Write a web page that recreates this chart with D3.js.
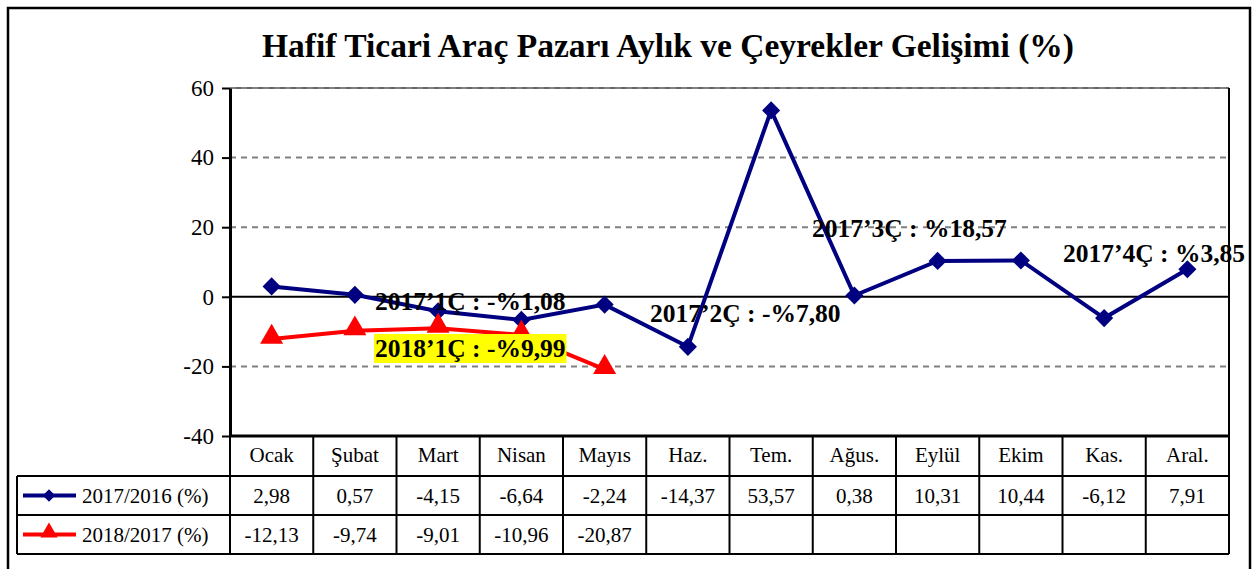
<!DOCTYPE html>
<html>
<head>
<meta charset="utf-8">
<script src="https://cdn.jsdelivr.net/npm/d3@7"></script>
<style>
body { margin: 0; background: #fff; }
svg { display: block; font-family: "Liberation Serif", serif; }
</style>
</head>
<body>
<div id="area"></div>
<script>
var months = ["Ocak", "Şubat", "Mart", "Nisan", "Mayıs", "Haz.", "Tem.", "Ağus.", "Eylül", "Ekim", "Kas.", "Aral."];
var vals2017 = [2.98, 0.57, -4.15, -6.64, -2.24, -14.37, 53.57, 0.38, 10.31, 10.44, -6.12, 7.91];
var vals2018 = [-12.13, -9.74, -9.01, -10.96, -20.87];
var seriesNames = ["2017/2016 (%)", "2018/2017 (%)"];
var yTicks = [-40, -20, 0, 20, 40, 60];
var notes = ["2017’1Ç : -%1,08", "2018’1Ç : -%9,99", "2017’2Ç : -%7,80", "2017’3Ç : %18,57", "2017’4Ç : %3,85"];
var title = "Hafif Ticari Araç Pazarı Aylık ve Çeyrekler Gelişimi (%)";

var width = 1254;
var height = 569;

var svg = d3.select("#area").append("svg")
    .attr("width", width)
    .attr("height", height);

// outer frame
svg.append("rect")
    .attr("x", 8).attr("y", 8)
    .attr("width", 1242).attr("height", 580)
    .attr("fill", "none").attr("stroke", "#000").attr("stroke-width", 2.5);

svg.append("text")
    .attr("x", 668).attr("y", 57)
    .attr("text-anchor", "middle")
    .attr("font-weight", "bold")
    .attr("font-size", 33.5)
    .text(title);

var pLeft = 230, pRight = 1229, pTop = 88, pBottom = 436;

var x = d3.scaleBand().domain(months).range([pLeft, pRight]);
var y = d3.scaleLinear().domain([-40, 60]).range([pBottom, pTop]);
var cx = function(i) { return x(months[i]) + x.bandwidth() / 2; };

// top frame line, under the dashes
svg.append("line")
    .attr("x1", pLeft).attr("x2", pRight)
    .attr("y1", pTop).attr("y2", pTop)
    .attr("stroke", "#333").attr("stroke-width", 1.5);

// grid lines
svg.append("g").selectAll("line")
    .data([-20, 20, 40, 60])
    .enter().append("line")
    .attr("x1", pLeft).attr("x2", pRight)
    .attr("y1", function(d) { return y(d); })
    .attr("y2", function(d) { return y(d); })
    .attr("stroke", "#808080").attr("stroke-width", 2)
    .attr("stroke-dasharray", "6,5");

// zero line
svg.append("line")
    .attr("x1", pLeft).attr("x2", pRight)
    .attr("y1", y(0)).attr("y2", y(0))
    .attr("stroke", "#000").attr("stroke-width", 2);

// plot frame (right side)
svg.append("line")
    .attr("x1", pRight).attr("x2", pRight)
    .attr("y1", pTop).attr("y2", pBottom)
    .attr("stroke", "#000").attr("stroke-width", 2);

// y axis
var yAxis = svg.append("g")
    .attr("transform", "translate(" + pLeft + ",0)")
    .call(d3.axisLeft(y).tickValues(yTicks).tickSize(8).tickSizeOuter(0).tickPadding(8)
        .tickFormat(function(d) { return String(d); }));
yAxis.select(".domain").attr("stroke-width", 3);
yAxis.selectAll(".tick line").attr("stroke-width", 2);
yAxis.selectAll("text")
    .attr("font-family", "Liberation Serif, serif")
    .attr("font-size", 23)
    .attr("fill", "#000");

// lines
var line = d3.line()
    .x(function(d, i) { return cx(i); })
    .y(function(d) { return y(d); });

svg.append("path")
    .datum(vals2017)
    .attr("d", line)
    .attr("fill", "none").attr("stroke", "#000080").attr("stroke-width", 4);

svg.append("path")
    .datum(vals2018)
    .attr("d", line)
    .attr("fill", "none").attr("stroke", "#ff0000").attr("stroke-width", 4);

var diamond = d3.symbol().type(d3.symbolDiamond2).size(210);
var triangle = d3.symbol().type(d3.symbolTriangle).size(230);

svg.append("g").selectAll("path")
    .data(vals2017)
    .enter().append("path")
    .attr("d", diamond)
    .attr("transform", function(d, i) { return "translate(" + cx(i) + "," + y(d) + ")"; })
    .attr("fill", "#000080");

svg.append("g").selectAll("path")
    .data(vals2018)
    .enter().append("path")
    .attr("d", triangle)
    .attr("transform", function(d, i) { return "translate(" + cx(i) + "," + (y(d) - 2) + ")"; })
    .attr("fill", "#ff0000");

// quarter notes
var notePos = [[375, 310], [375, 357], [650, 322], [812, 237], [1063, 262]];
var noteG = svg.append("g");
notes.forEach(function(t, i) {
    var tx = noteG.append("text")
        .attr("x", notePos[i][0]).attr("y", notePos[i][1])
        .attr("font-weight", "bold").attr("font-size", 25.5)
        .text(t);
    if (i === 1) {
        var bb = tx.node().getBBox();
        noteG.insert("rect", "text")
            .attr("x", bb.x - 1).attr("y", notePos[i][1] - 23)
            .attr("width", bb.width + 2).attr("height", 29)
            .attr("fill", "#ffff00");
    }
});

// data table
var rowH = [436, 476, 515, 554];
var tableLeft = 17;
var tbl = svg.append("g").attr("stroke", "#000").attr("stroke-width", 2);

tbl.selectAll("line.h")
    .data(rowH.slice(1))
    .enter().append("line")
    .attr("x1", tableLeft).attr("x2", pRight)
    .attr("y1", function(d) { return d; }).attr("y2", function(d) { return d; });

tbl.append("line")
    .attr("x1", pLeft).attr("x2", pRight)
    .attr("y1", pBottom).attr("y2", pBottom)
    .attr("stroke-width", 3);

tbl.selectAll("line.v")
    .data(months)
    .enter().append("line")
    .attr("x1", function(d) { return x(d); }).attr("x2", function(d) { return x(d); })
    .attr("y1", rowH[0]).attr("y2", rowH[3]);

tbl.append("line").attr("x1", pRight).attr("x2", pRight).attr("y1", rowH[0]).attr("y2", rowH[3]);
tbl.append("line").attr("x1", tableLeft).attr("x2", tableLeft).attr("y1", rowH[1]).attr("y2", rowH[3]);

var fmt = function(v) { return d3.format(".2f")(v).replace("\u2212", "-").replace(".", ","); };

svg.append("g").selectAll("text")
    .data(months)
    .enter().append("text")
    .attr("x", function(d, i) { return cx(i); })
    .attr("y", 462)
    .attr("text-anchor", "middle").attr("font-size", 21)
    .text(function(d) { return d; });

[vals2017, vals2018].forEach(function(vals, r) {
    svg.append("g").selectAll("text")
        .data(vals)
        .enter().append("text")
        .attr("x", function(d, i) { return cx(i); })
        .attr("y", rowH[r + 1] + 27)
        .attr("text-anchor", "middle").attr("font-size", 21)
        .text(function(d) { return fmt(d); });
});

// legend keys
var colors = ["#000080", "#ff0000"];
seriesNames.forEach(function(n, r) {
    var ly = (rowH[r + 1] + rowH[r + 2]) / 2;
    svg.append("line")
        .attr("x1", 23).attr("x2", 76)
        .attr("y1", ly).attr("y2", ly)
        .attr("stroke", colors[r]).attr("stroke-width", 4);
    svg.append("path")
        .attr("d", r === 0 ? d3.symbol().type(d3.symbolDiamond2).size(100) : d3.symbol().type(d3.symbolTriangle).size(130))
        .attr("transform", "translate(49," + (ly - (r === 1 ? 2 : 0)) + ")")
        .attr("fill", colors[r]);
    svg.append("text")
        .attr("x", 82).attr("y", ly + 7)
        .attr("font-size", 21)
        .text(n);
});
</script>
</body>
</html>
